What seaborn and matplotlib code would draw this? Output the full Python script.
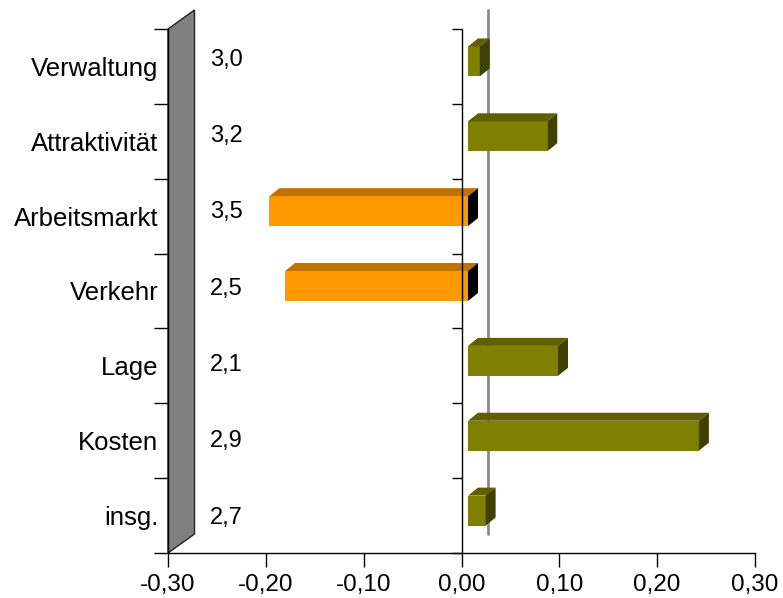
import numpy as np
import pandas as pd
import matplotlib
matplotlib.use("Agg")
import matplotlib.pyplot as plt
import seaborn as sns
from matplotlib.patches import Polygon

# ---- data ----
categories = ["Verwaltung", "Attraktivität", "Arbeitsmarkt", "Verkehr", "Lage", "Kosten", "insg."]
deviation = [0.012, 0.081, -0.203, -0.187, 0.092, 0.236, 0.018]
scores = ["3,0", "3,2", "3,5", "2,5", "2,1", "2,9", "2,7"]
xticks = [-0.30, -0.20, -0.10, 0.00, 0.10, 0.20, 0.30]
xtick_labels = ["-0,30", "-0,20", "-0,10", "0,00", "0,10", "0,20", "0,30"]

# ---- style ----
sns.set_theme(style="white")
plt.rcParams["font.family"] = ["Liberation Sans", "DejaVu Sans"]
plt.rcParams["text.color"] = "black"
plt.rcParams["xtick.color"] = "black"
plt.rcParams["ytick.color"] = "black"
plt.rcParams["xtick.labelcolor"] = "black"
plt.rcParams["ytick.labelcolor"] = "black"
FS = 18.5

W, H = 783, 598
fig = plt.figure(figsize=(W / 100, H / 100), dpi=100)
ax = fig.add_axes([168 / W, 45 / H, 587 / W, 524 / H])

df = pd.DataFrame({"Kategorie": categories, "Wert": deviation})
df["Vorzeichen"] = np.where(df["Wert"] >= 0, "pos", "neg")
front_col = {"pos": "#808000", "neg": "#FF9900"}
top_col = {"pos": "#5F5F00", "neg": "#C07300"}
side_col = {"pos": "#404000", "neg": "#000000"}

sns.barplot(data=df, x="Wert", y="Kategorie", hue="Vorzeichen", palette=front_col,
            width=0.4, dodge=False, legend=False, saturation=1, ax=ax,
            linewidth=0)

ax.set_xlim(-0.30, 0.30)
ax.set_ylim(6.5, -0.5)

ppx = ax.bbox.width / 0.6      # pixels per x unit
ppy = ax.bbox.height / 7.0     # pixels per category

sx, sy = 6.5 / ppx, -5.0 / ppy       # front face shift
dx, dy = 10.0 / ppx, -8.0 / ppy      # bar depth
wx, wy = 26.5 / ppx, -19.0 / ppy     # back plane offset

# 3D faces of the bars
for patch in list(ax.patches):
    if patch.get_height() == 0 or np.isnan(patch.get_width()):
        continue
    sign = "pos" if patch.get_width() >= 0 else "neg"
    patch.set_zorder(3)
    patch.set_x(patch.get_x() + sx)
    patch.set_y(patch.get_y() + sy)
    x0 = patch.get_x()
    x1 = x0 + patch.get_width()
    xl, xr = min(x0, x1), max(x0, x1)
    yt = patch.get_y()
    yb = yt + patch.get_height()
    yt, yb = min(yt, yb), max(yt, yb)
    top = Polygon([(xl, yt), (xr, yt), (xr + dx, yt + dy), (xl + dx, yt + dy)],
                  closed=True, facecolor=top_col[sign], edgecolor="none", zorder=3, clip_on=False)
    side = Polygon([(xr, yt), (xr, yb), (xr + dx, yb + dy), (xr + dx, yt + dy)],
                   closed=True, facecolor=side_col[sign], edgecolor="none", zorder=3, clip_on=False)
    ax.add_patch(top)
    ax.add_patch(side)

# grey side wall
wall = Polygon([(-0.30, 6.5), (-0.30, -0.5), (-0.30 + wx, -0.5 + wy), (-0.30 + wx, 6.5 + wy)],
               closed=True, facecolor="#808080", edgecolor="#222222", linewidth=1,
               zorder=2, clip_on=False)
ax.add_patch(wall)

# back plane zero line
ax.plot([wx, wx], [-0.5 + wy, 6.5 + wy], color="#8a8a8a", lw=2, zorder=1, clip_on=False)

# front zero axis with ticks
bounds = np.arange(-0.5, 7.0, 1.0)
ax.plot([0, 0], [-0.5, 6.5], color="black", lw=1, zorder=5, clip_on=False)
ax.hlines(bounds, -10 / ppx, 0, color="black", lw=1, zorder=5, clip_on=False)

# value labels
for i, s in enumerate(scores):
    ax.text(-0.257, i * 1.02 - 0.09, s, ha="left", va="center", fontsize=17, color="black")

# axes styling
for side_name in ["top", "right"]:
    ax.spines[side_name].set_visible(False)
for side_name in ["left", "bottom"]:
    ax.spines[side_name].set_color("black")
    ax.spines[side_name].set_linewidth(1)
    ax.spines[side_name].set_zorder(6)

ax.set_xticks(xticks)
ax.set_xticklabels(xtick_labels, fontsize=17.5)
ax.set_yticks(range(len(categories)))
ax.set_yticklabels(categories, fontsize=FS)
ax.set_yticks(bounds, minor=True)
ax.tick_params(axis="y", which="major", length=0, pad=7)
ax.tick_params(axis="y", which="minor", length=10, width=1, color="black", direction="out", left=True)
ax.tick_params(axis="x", which="major", length=10, width=1, color="black", direction="out",
               bottom=True, pad=5)
ax.set_xlabel("")
ax.set_ylabel("")
ax.grid(False)
ax.set_facecolor("white")
fig.patch.set_facecolor("white")

fig.savefig("out.png", dpi=100, facecolor="white")
